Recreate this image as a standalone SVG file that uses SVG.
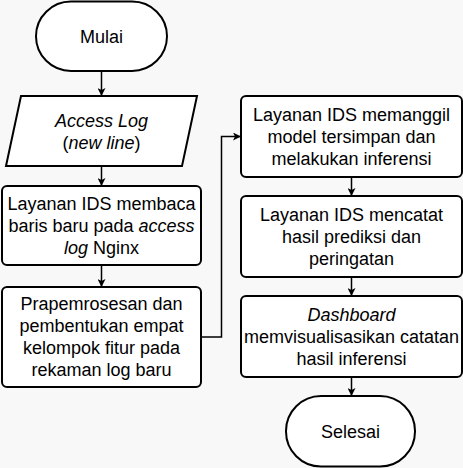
<svg xmlns="http://www.w3.org/2000/svg" width="463" height="468" viewBox="0 0 463 468">
<defs>
<style>
.s{fill:#ffffff;stroke:#000000;stroke-width:2}
.t{font-family:"Liberation Sans",Arial,sans-serif;font-size:18px;fill:#000000;text-anchor:middle}
.c{fill:none;stroke:#000000;stroke-width:1.5}
</style>
<marker id="ah" viewBox="0 0 10 10" refX="10" refY="5" markerWidth="8" markerHeight="8" markerUnits="userSpaceOnUse" orient="auto">
<path d="M0,0 L10,5 L0,10 L2.5,5 Z" fill="#000000"/>
</marker>
</defs>
<rect x="0" y="0" width="463" height="468" fill="#f8f8f8"/>
<g id="connectors">
<path class="c" d="M101.5,71 L101.5,96" marker-end="url(#ah)"/>
<path class="c" d="M101.5,166 L101.5,186" marker-end="url(#ah)"/>
<path class="c" d="M101.5,265 L101.5,287" marker-end="url(#ah)"/>
<path class="c" d="M201,337 L221.5,337 L221.5,136.5 L241,136.5" marker-end="url(#ah)"/>
<path class="c" d="M351.5,177 L351.5,196" marker-end="url(#ah)"/>
<path class="c" d="M351.5,277 L351.5,296" marker-end="url(#ah)"/>
<path class="c" d="M351.5,377 L351.5,396" marker-end="url(#ah)"/>
</g>
<g id="mulai">
<rect class="s" x="36" y="1.5" width="131" height="69.5" rx="35" ry="34.75"/>
<text class="t" x="101.5" y="42.5">Mulai</text>
</g>
<g id="accesslog">
<polygon class="s" points="21,96 197,96 182,166 6,166"/>
<text class="t" x="101.5" y="126.5"><tspan font-style="italic">Access Log</tspan></text>
<text class="t" x="101.5" y="148.5">(<tspan font-style="italic">new line</tspan>)</text>
</g>
<g id="membaca">
<rect class="s" x="2" y="186" width="199" height="79" rx="5"/>
<text class="t" x="101.5" y="210">Layanan IDS membaca</text>
<text class="t" x="101.5" y="232">baris baru pada <tspan font-style="italic">access</tspan></text>
<text class="t" x="101.5" y="254"><tspan font-style="italic">log</tspan> Nginx</text>
</g>
<g id="prapemrosesan">
<rect class="s" x="2" y="287" width="199" height="100" rx="5"/>
<text class="t" x="101.5" y="310">Prapemrosesan dan</text>
<text class="t" x="101.5" y="332">pembentukan empat</text>
<text class="t" x="101.5" y="354">kelompok fitur pada</text>
<text class="t" x="101.5" y="376">rekaman log baru</text>
</g>
<g id="inferensi">
<rect class="s" x="241" y="96" width="221" height="81" rx="5"/>
<text class="t" x="351.5" y="120.5">Layanan IDS memanggil</text>
<text class="t" x="351.5" y="142.5">model tersimpan dan</text>
<text class="t" x="351.5" y="164.5">melakukan inferensi</text>
</g>
<g id="mencatat">
<rect class="s" x="241" y="196" width="221" height="81" rx="5"/>
<text class="t" x="351.5" y="220.5">Layanan IDS mencatat</text>
<text class="t" x="351.5" y="242.5">hasil prediksi dan</text>
<text class="t" x="351.5" y="264.5">peringatan</text>
</g>
<g id="dashboard">
<rect class="s" x="241" y="296" width="221" height="81" rx="5"/>
<text class="t" x="351.5" y="320.5"><tspan font-style="italic">Dashboard</tspan></text>
<text class="t" x="351.5" y="342.5">memvisualisasikan catatan</text>
<text class="t" x="351.5" y="364.5">hasil inferensi</text>
</g>
<g id="selesai">
<rect class="s" x="286" y="396" width="129" height="70.5" rx="35" ry="35"/>
<text class="t" x="350.5" y="437.5">Selesai</text>
</g>
</svg>
